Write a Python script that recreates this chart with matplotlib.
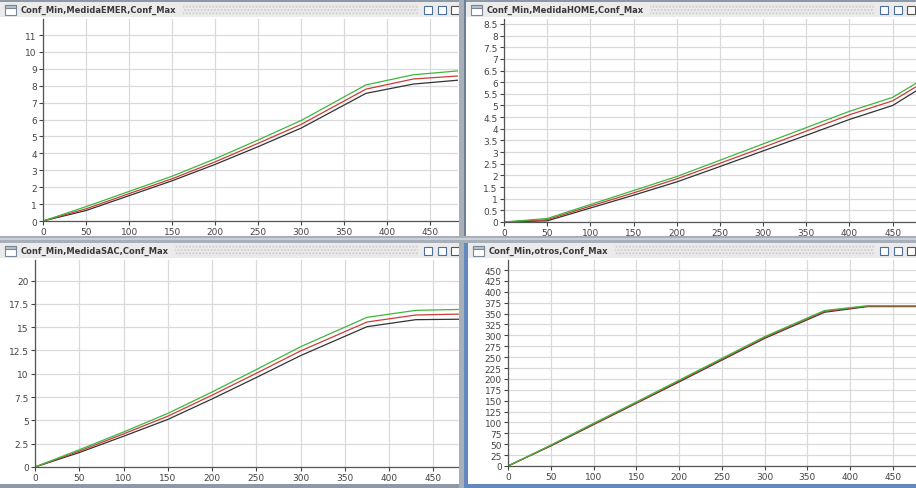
import matplotlib
matplotlib.use('Agg')
import matplotlib.pyplot as plt
from matplotlib.patches import Rectangle

# data
x_emer = [0, 50, 100, 150, 200, 250, 300, 375, 430, 482]
emer_min = [0, 0.62, 1.5, 2.38, 3.35, 4.4, 5.5, 7.55, 8.1, 8.33]
emer_med = [0, 0.72, 1.62, 2.5, 3.5, 4.6, 5.72, 7.8, 8.4, 8.58]
emer_max = [0, 0.85, 1.75, 2.65, 3.68, 4.8, 5.95, 8.05, 8.65, 8.88]

x_home = [0, 50, 100, 150, 200, 250, 300, 350, 400, 450, 477]
home_min = [0, 0.05, 0.6, 1.15, 1.72, 2.38, 3.05, 3.72, 4.4, 5.0, 5.62]
home_med = [0, 0.1, 0.68, 1.25, 1.85, 2.52, 3.2, 3.9, 4.6, 5.2, 5.8]
home_max = [0, 0.15, 0.75, 1.35, 1.95, 2.65, 3.35, 4.05, 4.75, 5.35, 5.95]

x_sac = [0, 50, 100, 150, 200, 250, 300, 375, 430, 480]
sac_min = [0, 1.55, 3.3, 5.1, 7.3, 9.6, 11.95, 15.05, 15.8, 15.85]
sac_med = [0, 1.7, 3.55, 5.45, 7.7, 10.05, 12.45, 15.55, 16.3, 16.4]
sac_max = [0, 1.85, 3.75, 5.75, 8.05, 10.45, 12.9, 16.05, 16.8, 16.9]

x_otros = [0, 50, 100, 150, 200, 250, 300, 370, 420, 477]
otros_min = [0, 46, 95, 144, 193, 243, 293, 353, 366, 366]
otros_med = [0, 47, 96, 145, 195, 245, 295, 355, 367, 367]
otros_max = [0, 48, 98, 147, 197, 247, 297, 357, 368, 368]

titles = ['Conf_Min,MedidaEMER,Conf_Max', 'Conf_Min,MedidaHOME,Conf_Max',
          'Conf_Min,MedidaSAC,Conf_Max', 'Conf_Min,otros,Conf_Max']

W, H = 916, 489
fig = plt.figure(figsize=(W / 100, H / 100), dpi=100)
fig.patch.set_facecolor('white')


def rect(x, y, w, h, **kw):
    # rectangle in pixel coords (origin top-left)
    r = Rectangle((x / W, 1 - (y + h) / H), w / W, h / H, transform=fig.transFigure, **kw)
    fig.patches.append(r)
    return r


def title_bar(x0, x1, y, text):
    rect(x0, y, x1 - x0, 15, facecolor='#ebebeb', edgecolor='none')
    # window icon
    rect(x0 + 5, y + 3, 11, 10, facecolor='white', edgecolor='#7a8796', linewidth=0.8)
    rect(x0 + 5, y + 3, 11, 2.5, facecolor='#b9c3cf', edgecolor='#7a8796', linewidth=0.8)
    t = fig.text((x0 + 21) / W, 1 - (y + 7.5) / H, text, fontsize=6.0, fontweight='bold',
                 color='#3a3a3a', va='center', ha='left')
    fig.canvas.draw()
    tx1 = t.get_window_extent().x1
    rect(tx1 + 6, y + 2, x1 - 42 - tx1 - 6, 11, facecolor='#ebebeb', edgecolor='#cdcdcd',
         hatch='.....', linewidth=0)
    # right hand buttons
    for dx, c in [(x1 - 36, '#4a6fa0'), (x1 - 22, '#4a6fa0'), (x1 - 9, '#555555')]:
        rect(dx, y + 4, 8, 8, facecolor='white', edgecolor=c, linewidth=0.8)


def panel(px, xmax, ymax, yticks, ylabels, xs, lo, mid, hi):
    x0, x1, ytop, ybot = px
    ax = fig.add_axes([x0 / W, 1 - ybot / H, (x1 - x0) / W, (ybot - ytop) / H])
    ax.plot(xs, lo, color='#333333', lw=0.9)
    ax.plot(xs, mid, color='#cc3b3b', lw=0.9)
    ax.plot(xs, hi, color='#3cb83c', lw=0.9)
    ax.set_xlim(0, xmax)
    ax.set_ylim(0, ymax)
    ax.set_xticks(range(0, 451, 50))
    ax.set_yticks(yticks)
    ax.set_yticklabels(ylabels)
    ax.grid(True, color='#dadada', lw=0.9)
    ax.set_axisbelow(True)
    for s in ['top', 'right']:
        ax.spines[s].set_visible(False)
    for s in ['left', 'bottom']:
        ax.spines[s].set_color('#555555')
        ax.spines[s].set_linewidth(0.9)
    ax.tick_params(labelsize=6.5, length=3, width=0.8, colors='#444444', pad=1.5)
    ax.set_facecolor('white')
    return ax


def fmt(v):
    return ('%g' % v)


# top-left
t = list(range(0, 12))
panel((43, 458, 20, 222), 482, 11.95, t, [fmt(v) for v in t], x_emer, emer_min, emer_med, emer_max)
# top-right
t = [i * 0.5 for i in range(0, 18)]
panel((504, 916, 20, 223), 477, 8.71, t, [fmt(v) for v in t], x_home, home_min, home_med, home_max)
# bottom-left
t = [i * 2.5 for i in range(0, 9)]
panel((35, 460, 261, 468), 480, 22.2, t, [fmt(v) for v in t], x_sac, sac_min, sac_med, sac_max)
# bottom-right
t = list(range(0, 451, 25))
panel((508, 916, 261, 467), 477, 473, t, [str(v) for v in t], x_otros, otros_min, otros_med, otros_max)

# window chrome
rect(0, 0, 460, 3, facecolor='#8d99a6', edgecolor='none')
rect(466, 0, 450, 3, facecolor='#8d99a6', edgecolor='none')
title_bar(0, 460, 3, titles[0])
title_bar(466, 916, 3, titles[1])
title_bar(0, 460, 244, titles[2])
title_bar(468, 916, 244, titles[3])

# splitters
rect(459, 0, 7, H, facecolor='#a7afb8', edgecolor='none')
rect(0, 237, W, 7, facecolor='#a7afb8', edgecolor='none')
rect(0, 239, W, 2, facecolor='#c9d0d7', edgecolor='none')
rect(464, 0, 2, 237, facecolor='#6d7f96', edgecolor='none')
# active (blue) border on bottom-right window
rect(464, 244, 4, H - 244, facecolor='#6388c0', edgecolor='none')
rect(464, 485, W - 464, 4, facecolor='#6388c0', edgecolor='none')
rect(0, 485, 459, 4, facecolor='#8d99a6', edgecolor='none')

fig.savefig('out.png', dpi=100)
